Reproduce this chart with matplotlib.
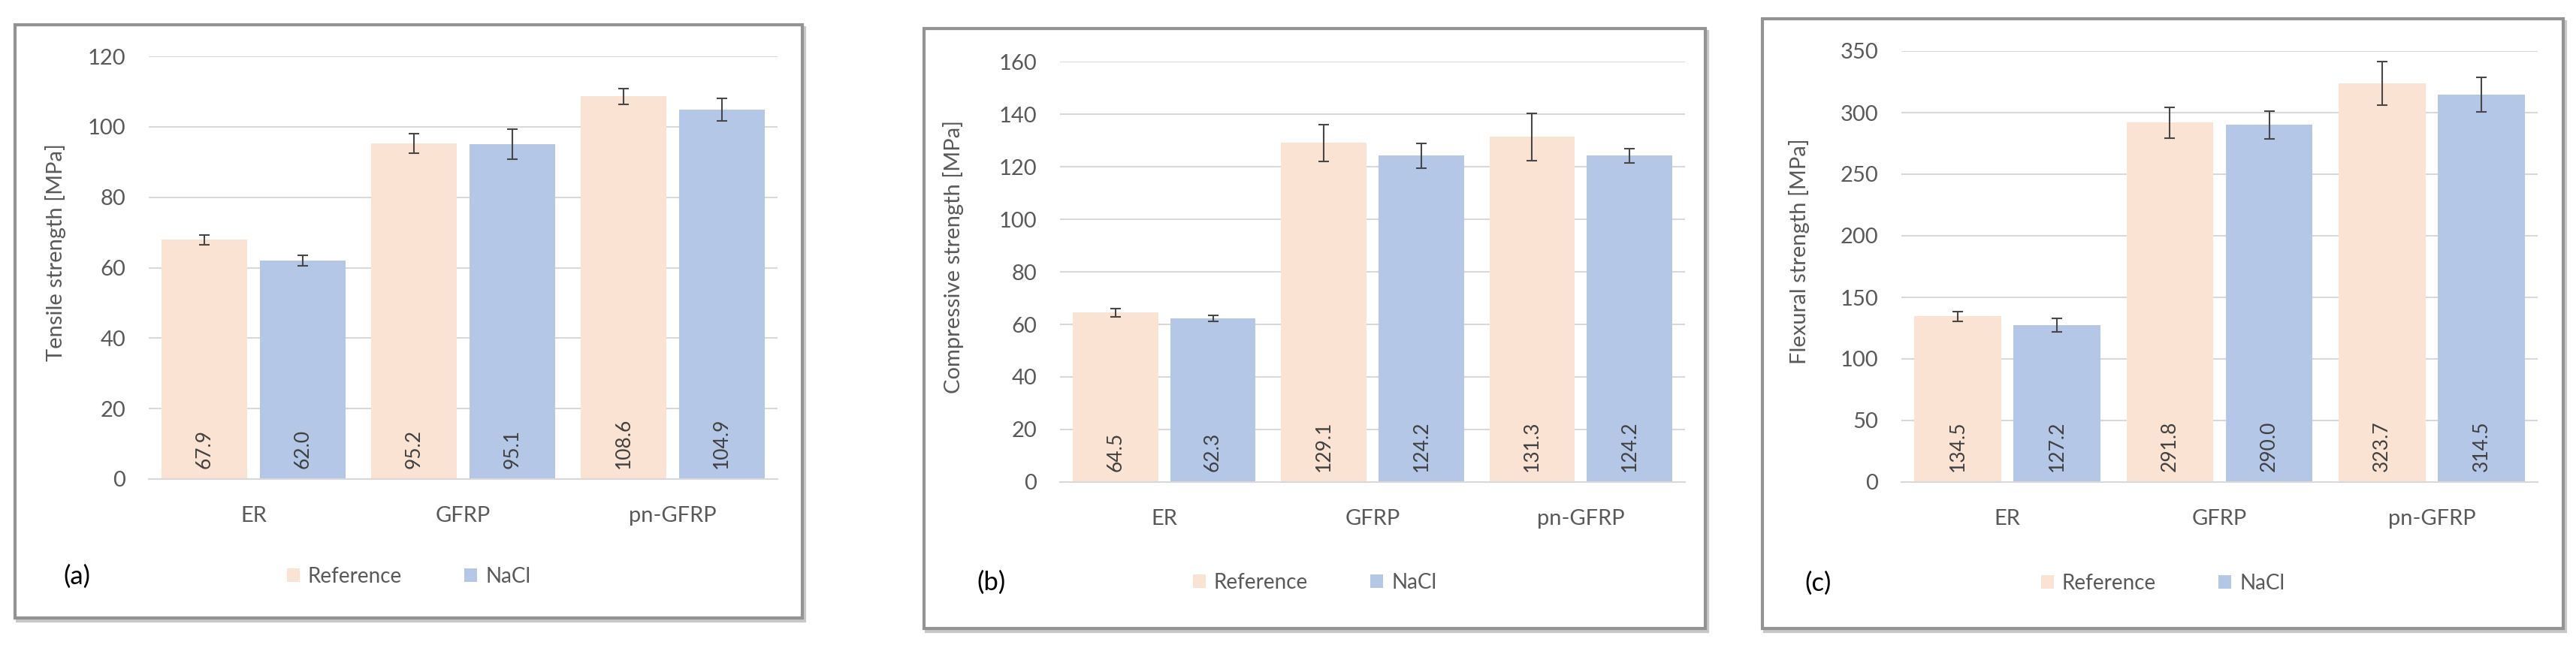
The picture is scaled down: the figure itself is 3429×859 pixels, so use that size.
import matplotlib
matplotlib.use("Agg")
from matplotlib import pyplot as plt
from matplotlib.patches import Rectangle
import numpy as np

plt.rcParams['font.family'] = ['Lato', 'DejaVu Sans']

categories = ["ER", "GFRP", "pn-GFRP"]
series_names = ["Reference", "NaCl"]

tensile_ref = [67.9, 95.2, 108.6]
tensile_nacl = [62.0, 95.1, 104.9]
tensile_ref_err = [1.3, 2.8, 2.3]
tensile_nacl_err = [1.5, 4.2, 3.2]

compressive_ref = [64.5, 129.1, 131.3]
compressive_nacl = [62.3, 124.2, 124.2]
compressive_ref_err = [1.5, 7.0, 9.0]
compressive_nacl_err = [1.2, 4.7, 2.7]

flexural_ref = [134.5, 291.8, 323.7]
flexural_nacl = [127.2, 290.0, 314.5]
flexural_ref_err = [4.0, 12.5, 17.5]
flexural_nacl_err = [5.5, 11.5, 14.0]

W, H = 3430, 859
ref_color = '#FBE3D3'
nacl_color = '#B4C7E7'
text_color = '#595959'
grid_color = '#D9D9D9'


def fx(px):
    return px / W


def fy(py):
    return 1 - py / H


def draw_panel(fig, box, plot, ref, nacl, ref_err, nacl_err, ymax, ystep,
               ylabel, tag, ylabel_x, tag_x, legend_y):
    # chart area border with a faint shadow at the bottom, like Excel
    x0, y0, x1, y1 = box
    fig.patches.append(Rectangle((fx(x0 + 3), fy(y1 + 4)), fx(x1 - x0), (y1 - y0) / H,
                                 transform=fig.transFigure, fill=False,
                                 edgecolor='#C8C8C8', linewidth=3.0, zorder=-2))
    fig.patches.append(Rectangle((fx(x0), fy(y1)), fx(x1 - x0), (y1 - y0) / H,
                                 transform=fig.transFigure, facecolor='white',
                                 edgecolor='#939393', linewidth=3.0, zorder=-1))

    px0, py0, px1, py1 = plot
    ax = fig.add_axes([fx(px0), fy(py1), fx(px1 - px0), (py1 - py0) / H])

    x = np.arange(len(categories))
    off = 0.234
    bw = 0.41
    ekw = dict(ecolor='#474747', elinewidth=1.5, capsize=5, capthick=1.5)
    ax.bar(x - off, ref, bw, color=ref_color, yerr=ref_err, error_kw=ekw,
           label=series_names[0], zorder=2)
    ax.bar(x + off, nacl, bw, color=nacl_color, yerr=nacl_err, error_kw=ekw,
           label=series_names[1], zorder=2)

    for xi, v in zip(x - off, ref):
        ax.annotate(f"{v:.1f}", (xi, 0), xytext=(0, 10), textcoords='offset points',
                    rotation=90, ha='center', va='bottom', fontsize=19,
                    color='#404040', zorder=3)
    for xi, v in zip(x + off, nacl):
        ax.annotate(f"{v:.1f}", (xi, 0), xytext=(0, 10), textcoords='offset points',
                    rotation=90, ha='center', va='bottom', fontsize=19,
                    color='#404040', zorder=3)

    ax.set_xlim(-0.5, 2.5)
    ax.set_ylim(0, ymax)
    ax.set_yticks(np.arange(0, ymax + 1, ystep))
    ax.set_xticks(x)
    ax.set_xticklabels(categories)
    ax.grid(axis='y', color=grid_color, linewidth=1.5, zorder=0)
    ax.set_axisbelow(True)
    for s in ['top', 'right', 'left']:
        ax.spines[s].set_visible(False)
    ax.spines['bottom'].set_color(grid_color)
    ax.spines['bottom'].set_linewidth(1.5)
    ax.tick_params(axis='both', length=0, labelsize=21, colors=text_color)
    ax.tick_params(axis='x', pad=26)
    ax.tick_params(axis='y', pad=22)
    ax.set_facecolor('none')

    fig.text(fx(ylabel_x), fy((py0 + py1) / 2 - 20), ylabel, rotation=90,
             ha='center', va='center', fontsize=21, color=text_color)
    fig.text(fx(tag_x), fy(legend_y), tag, ha='center', va='center',
             fontsize=25, color='black')

    handles, labels = ax.get_legend_handles_labels()
    fig.legend(handles, labels, loc='center', ncol=2,
               bbox_to_anchor=(fx((x0 + x1) / 2), fy(legend_y)),
               frameon=False, fontsize=20, labelcolor=text_color,
               handlelength=0.6, handleheight=0.6, handletextpad=0.4,
               columnspacing=3.0)
    return ax


fig = plt.figure(figsize=(W / 100, H / 100), dpi=100)

draw_panel(fig, (20, 33, 1068, 823), (198, 75, 1035, 638),
           tensile_ref, tensile_nacl, tensile_ref_err, tensile_nacl_err,
           120, 20, "Tensile strength [MPa]", "(a)", 74, 102, 768)

draw_panel(fig, (1230, 38, 2270, 837), (1411, 82, 2243, 642),
           compressive_ref, compressive_nacl, compressive_ref_err, compressive_nacl_err,
           160, 20, "Compressive strength [MPa]", "(b)", 1269, 1320, 776)

draw_panel(fig, (2346, 25, 3412, 837), (2531, 68, 3378, 642),
           flexural_ref, flexural_nacl, flexural_ref_err, flexural_nacl_err,
           350, 50, "Flexural strength [MPa]", "(c)", 2395, 2420, 777)

fig.savefig("out.png", dpi=100)
